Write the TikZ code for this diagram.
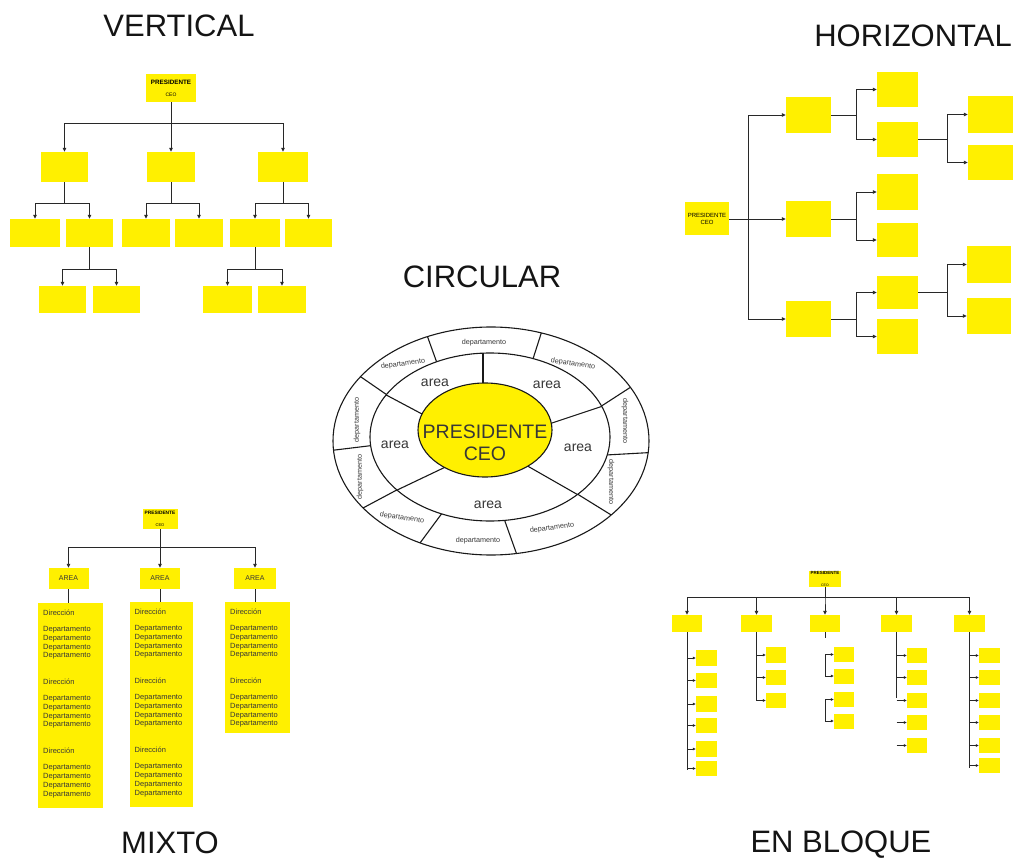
\documentclass[tikz,border=0pt]{standalone}
\usepackage{fontspec}
\setmainfont{Liberation Sans}
\usetikzlibrary{arrows.meta,calc}
\definecolor{yel}{RGB}{255,240,0}
\definecolor{ln}{RGB}{40,40,40}
\definecolor{tx}{RGB}{55,55,55}
\newcommand{\dpto}{Departamento}
\newcommand{\dirc}{Dirección}
\begin{document}
\begin{tikzpicture}[x=1pt,y=-1pt,
 yb/.style={fill=yel,draw=none,inner sep=0pt},
 bx/.style 2 args={yb,minimum width=#1pt,minimum height=#2pt},
 con/.style={draw=ln,line width=0.9pt},
 arr/.style={con,-{Triangle[length=4pt,width=3.5pt]}},
 sarr/.style={con,line width=0.7pt,-{Triangle[length=3pt,width=2.6pt]}},
 ttl/.style={font=\fontsize{31}{33}\selectfont,text=black!92,anchor=base,inner sep=0pt},
 dept/.style={font=\fontsize{7.2}{8}\selectfont,text=tx,inner sep=0pt},
 areal/.style={font=\fontsize{14}{16}\selectfont,text=tx,inner sep=0pt},
 mtext/.style={font=\fontsize{7.5}{8.7}\selectfont,text=tx,inner sep=0pt,align=left,anchor=north west},
 ring/.style={draw=black!90,line width=1.1pt},
]
\useasboundingbox (0,0) rectangle (1021,861);

% ---------- titles ----------
\node[ttl] (tv) at (179,37) {VERTICAL};
\node[ttl] (th) at (913,47) {HORIZONTAL};
\node[ttl] (tc) at (482,288) {CIRCULAR};
\node[ttl] (tm) at (170,853) {MIXTO};
\node[ttl] (te) at (841,852) {EN BLOQUE};

% ---------- VERTICAL ----------
\node[bx={50}{28},align=center] (vp) at (171,88) {{\fontsize{6.3}{7}\selectfont\bfseries PRESIDENTE}\\{\fontsize{5}{6}\selectfont CEO}};
\node[bx={47}{30}] (v1) at (64.5,167) {};
\node[bx={48}{30}] (v2) at (171,167) {};
\node[bx={50}{30}] (v3) at (283,167) {};
\node[bx={50}{28}] (v11) at (35,233) {};
\node[bx={47}{28}] (v12) at (89.5,233) {};
\node[bx={48}{28}] (v21) at (146,233) {};
\node[bx={48}{28}] (v22) at (199,233) {};
\node[bx={50}{28}] (v31) at (255,233) {};
\node[bx={47}{28}] (v32) at (308.5,233) {};
\node[bx={47}{27}] (v121) at (62.5,299.5) {};
\node[bx={47}{27}] (v122) at (116.5,299.5) {};
\node[bx={49}{27}] (v311) at (227.5,299.5) {};
\node[bx={48}{27}] (v312) at (282,299.5) {};
\draw[arr] (vp.south) -- ++(0,21) -| (v1.north);
\draw[arr] (vp.south) -- (v2.north);
\draw[arr] (vp.south) -- ++(0,21) -| (v3.north);
\draw[arr] (v1.south) -- ++(0,21) -| (v11.north);
\draw[arr] (v1.south) -- ++(0,21) -| (v12.north);
\draw[arr] (v2.south) -- ++(0,21) -| (v21.north);
\draw[arr] (v2.south) -- ++(0,21) -| (v22.north);
\draw[arr] (v3.south) -- ++(0,21) -| (v31.north);
\draw[arr] (v3.south) -- ++(0,21) -| (v32.north);
\draw[arr] (v12.south) -- ++(0,22) -| (v121.north);
\draw[arr] (v12.south) -- ++(0,22) -| (v122.north);
\draw[arr] (v31.south) -- ++(0,22) -| (v311.north);
\draw[arr] (v31.south) -- ++(0,22) -| (v312.north);

% ---------- HORIZONTAL ----------
\node[bx={44}{33},align=center,font=\fontsize{6}{6.8}\selectfont] (hp) at (707,219) {PRESIDENTE\\CEO};
\node[bx={45}{36}] (h1) at (808.5,115) {};
\node[bx={45}{36}] (h2) at (808.5,219) {};
\node[bx={45}{36}] (h3) at (808.5,319) {};
\node[bx={41}{35}] (h11) at (897.5,89.5) {};
\node[bx={41}{35}] (h12) at (897.5,139.5) {};
\node[bx={41}{36}] (h21) at (897.5,192) {};
\node[bx={41}{34}] (h22) at (897.5,240) {};
\node[bx={41}{33}] (h31) at (897.5,292.5) {};
\node[bx={41}{35}] (h32) at (897.5,336.5) {};
\node[bx={45}{37}] (h121) at (990.5,114.5) {};
\node[bx={45}{35}] (h122) at (990.5,162.5) {};
\node[bx={44}{37}] (h311) at (989,264.5) {};
\node[bx={44}{36}] (h312) at (989,316) {};
\draw[arr] (hp.east) -- ++(19,0) |- (h1.west);
\draw[arr] (hp.east) -- (h2.west);
\draw[arr] (hp.east) -- ++(19,0) |- (h3.west);
\draw[arr] (h1.east) -- ++(25,0) |- (h11.west);
\draw[arr] (h1.east) -- ++(25,0) |- (h12.west);
\draw[arr] (h2.east) -- ++(25,0) |- (h21.west);
\draw[arr] (h2.east) -- ++(25,0) |- (h22.west);
\draw[arr] (h3.east) -- ++(25,0) |- (h31.west);
\draw[arr] (h3.east) -- ++(25,0) |- (h32.west);
\draw[arr] (h12.east) -- ++(29,0) |- (h121.west);
\draw[arr] (h12.east) -- ++(29,0) |- (h122.west);
\draw[arr] (h31.east) -- ++(29,0) |- (h311.west);
\draw[arr] (h31.east) -- ++(29,0) |- (h312.west);

% ---------- CIRCULAR ----------
\draw[ring] (491,441) ellipse [x radius=158pt, y radius=114pt];
\begin{scope}
 \clip (491,441) ellipse [x radius=158pt, y radius=114pt];
 \foreach \a/\b in {{437,363}/{428,338},{532,362}/{540,337},{390,397}/{361,377},{368,446}/{335,450},{393,492}/{363,508},{437,520}/{420,543},{507,527}/{517,555},{587,500}/{608,513},{606,455}/{642,453},{600,407}/{617,396}}
  \draw[ring] ($(\a)!-0.5!(\b)$) -- ($(\a)!2!(\b)$);
\end{scope}
\filldraw[ring,fill=white] (490,437) ellipse [x radius=120pt, y radius=84pt];
\begin{scope}
 \clip (490,437) ellipse [x radius=120pt, y radius=84pt];
 \foreach \a/\b in {{483,384}/{483,355},{422,414}/{390,397},{552,423}/{600,407},{435,472}/{393,492},{538,472}/{587,500}}
  \draw[ring] ($(\a)!-0.5!(\b)$) -- ($(\a)!2!(\b)$);
\end{scope}
\filldraw[ring,fill=yel] (485,430) ellipse [x radius=67pt, y radius=47pt];
\node[align=center,font=\fontsize{19.5}{22}\selectfont,text=tx,inner sep=0pt] (ceo) at (485,443) {PRESIDENTE\\CEO};
\node[areal] (a1) at (435,383) {area};
\node[areal] (a2) at (547,385) {area};
\node[areal] (a3) at (395,445) {area};
\node[areal] (a4) at (578,448) {area};
\node[areal] (a5) at (488,505) {area};
\node[dept] (d1) at (484,343) {departamento};
\node[dept,rotate=8] (d2) at (403,364) {departamento};
\node[dept,rotate=-8] (d3) at (573,364) {departamento};
\node[dept,rotate=90] (d4) at (357,420) {departamento};
\node[dept,rotate=90] (d5) at (360,477) {departamento};
\node[dept,rotate=-90] (d6) at (625,421) {departamento};
\node[dept,rotate=-90] (d7) at (611,482) {departamento};
\node[dept,rotate=-8] (d8) at (402,518) {departamento};
\node[dept] (d9) at (478,541) {departamento};
\node[dept,rotate=8] (d10) at (552,528) {departamento};

% ---------- MIXTO ----------
\node[bx={35}{20},align=center] (mp) at (160,519) {{\fontsize{4.8}{5.4}\selectfont\bfseries PRESIDENTE}\\{\fontsize{4}{5}\selectfont CEO}};
\node[bx={40}{21},font=\fontsize{7}{8}\selectfont,text=tx] (ma1) at (68.5,578.5) {AREA};
\node[bx={40}{21},font=\fontsize{7}{8}\selectfont,text=tx] (ma2) at (160,578.5) {AREA};
\node[bx={42}{21},font=\fontsize{7}{8}\selectfont,text=tx] (ma3) at (255,578.5) {AREA};
\node[bx={65}{205}] (mc1) at (70.5,705.5) {};
\node[bx={63}{205}] (mc2) at (161.5,704.5) {};
\node[bx={65}{131}] (mc3) at (257.5,667.5) {};
\draw[arr] (mp.south) -- ++(0,18) -| (ma1.north);
\draw[arr] (mp.south) -- (ma2.north);
\draw[arr] (mp.south) -- ++(0,18) -| (ma3.north);
\draw[con] (ma1.south) -- (ma1.south |- mc1.north);
\draw[con] (ma2.south) -- (ma2.south |- mc2.north);
\draw[con] (ma3.south) -- (ma3.south |- mc3.north);
\node[mtext] (mt1) at (43,610) {\dirc\\[7.3pt]\dpto\\\dpto\\\dpto\\\dpto\\[18.3pt]\dirc\\[7.3pt]\dpto\\\dpto\\\dpto\\\dpto\\[18.3pt]\dirc\\[7.3pt]\dpto\\\dpto\\\dpto\\\dpto};
\node[mtext] (mt2) at (134.5,609) {\dirc\\[7.3pt]\dpto\\\dpto\\\dpto\\\dpto\\[18.3pt]\dirc\\[7.3pt]\dpto\\\dpto\\\dpto\\\dpto\\[18.3pt]\dirc\\[7.3pt]\dpto\\\dpto\\\dpto\\\dpto};
\node[mtext] (mt3) at (230,609) {\dirc\\[7.3pt]\dpto\\\dpto\\\dpto\\\dpto\\[18.3pt]\dirc\\[7.3pt]\dpto\\\dpto\\\dpto\\\dpto};

% ---------- EN BLOQUE ----------
\node[bx={32}{14},align=center] (ep) at (825,579) {{\fontsize{4.5}{5}\selectfont\bfseries PRESIDENTE}\\{\fontsize{3.5}{4}\selectfont CEO}};
\node[bx={30}{17}] (e1) at (687,623.5) {};
\node[bx={31}{17}] (e2) at (756.5,623.5) {};
\node[bx={30}{17}] (e3) at (825,623.5) {};
\node[bx={31}{17}] (e4) at (896.5,623.5) {};
\node[bx={31}{17}] (e5) at (969.5,623.5) {};
\foreach \k in {1,...,5} \draw[arr] (ep.south) -- ++(0,11) -| (e\k.north);
% e1
\draw[con] (e1.south) -- ++(0,138);
\foreach \i/\y in {1/658,2/680.5,3/704,4/725.5,5/749,6/768.5}{
 \node[bx={21}{15.5}] (e1\i) at (706.5,\y) {};
 \draw[sarr] (e1.south |- e1\i.west) -- (e1\i.west);}
% e2
\foreach \i/\y in {1/655,2/677.5,3/700.5}{
 \node[bx={20}{15.5}] (e2\i) at (776,\y) {};
 \draw[sarr] (e2.south) |- (e2\i.west);}
% e3
\foreach \i/\y in {1/654.5,2/676,3/699.5,4/721}{
 \node[bx={20}{15}] (e3\i) at (844,\y) {};}
\draw[con] (e3.south) -- ++(0,6);
\draw[sarr] (e3.south |- e32.west) |- (e31.west);
\draw[sarr] (e3.south |- e32.west) -- (e32.west);
\draw[sarr] (e3.south |- e34.west) |- (e33.west);
\draw[sarr] (e3.south |- e34.west) -- (e34.west);
% e4
\draw[con] (e4.south) -- ++(0,66);
\foreach \i/\y in {1/655.5,2/677.5,3/700.5,4/722.5,5/745.5}{
 \node[bx={20}{15}] (e4\i) at (917,\y) {};
 \draw[sarr] (e4.south |- e4\i.west) -- (e4\i.west);}
% e5
\draw[con] (e5.south) -- ++(0,136);
\foreach \i/\y in {1/655.5,2/677.5,3/700.5,4/722.5,5/745.5,6/765.5}{
 \node[bx={21}{15}] (e5\i) at (989.5,\y) {};
 \draw[sarr] (e5.south |- e5\i.west) -- (e5\i.west);}
\end{tikzpicture}
\end{document}
